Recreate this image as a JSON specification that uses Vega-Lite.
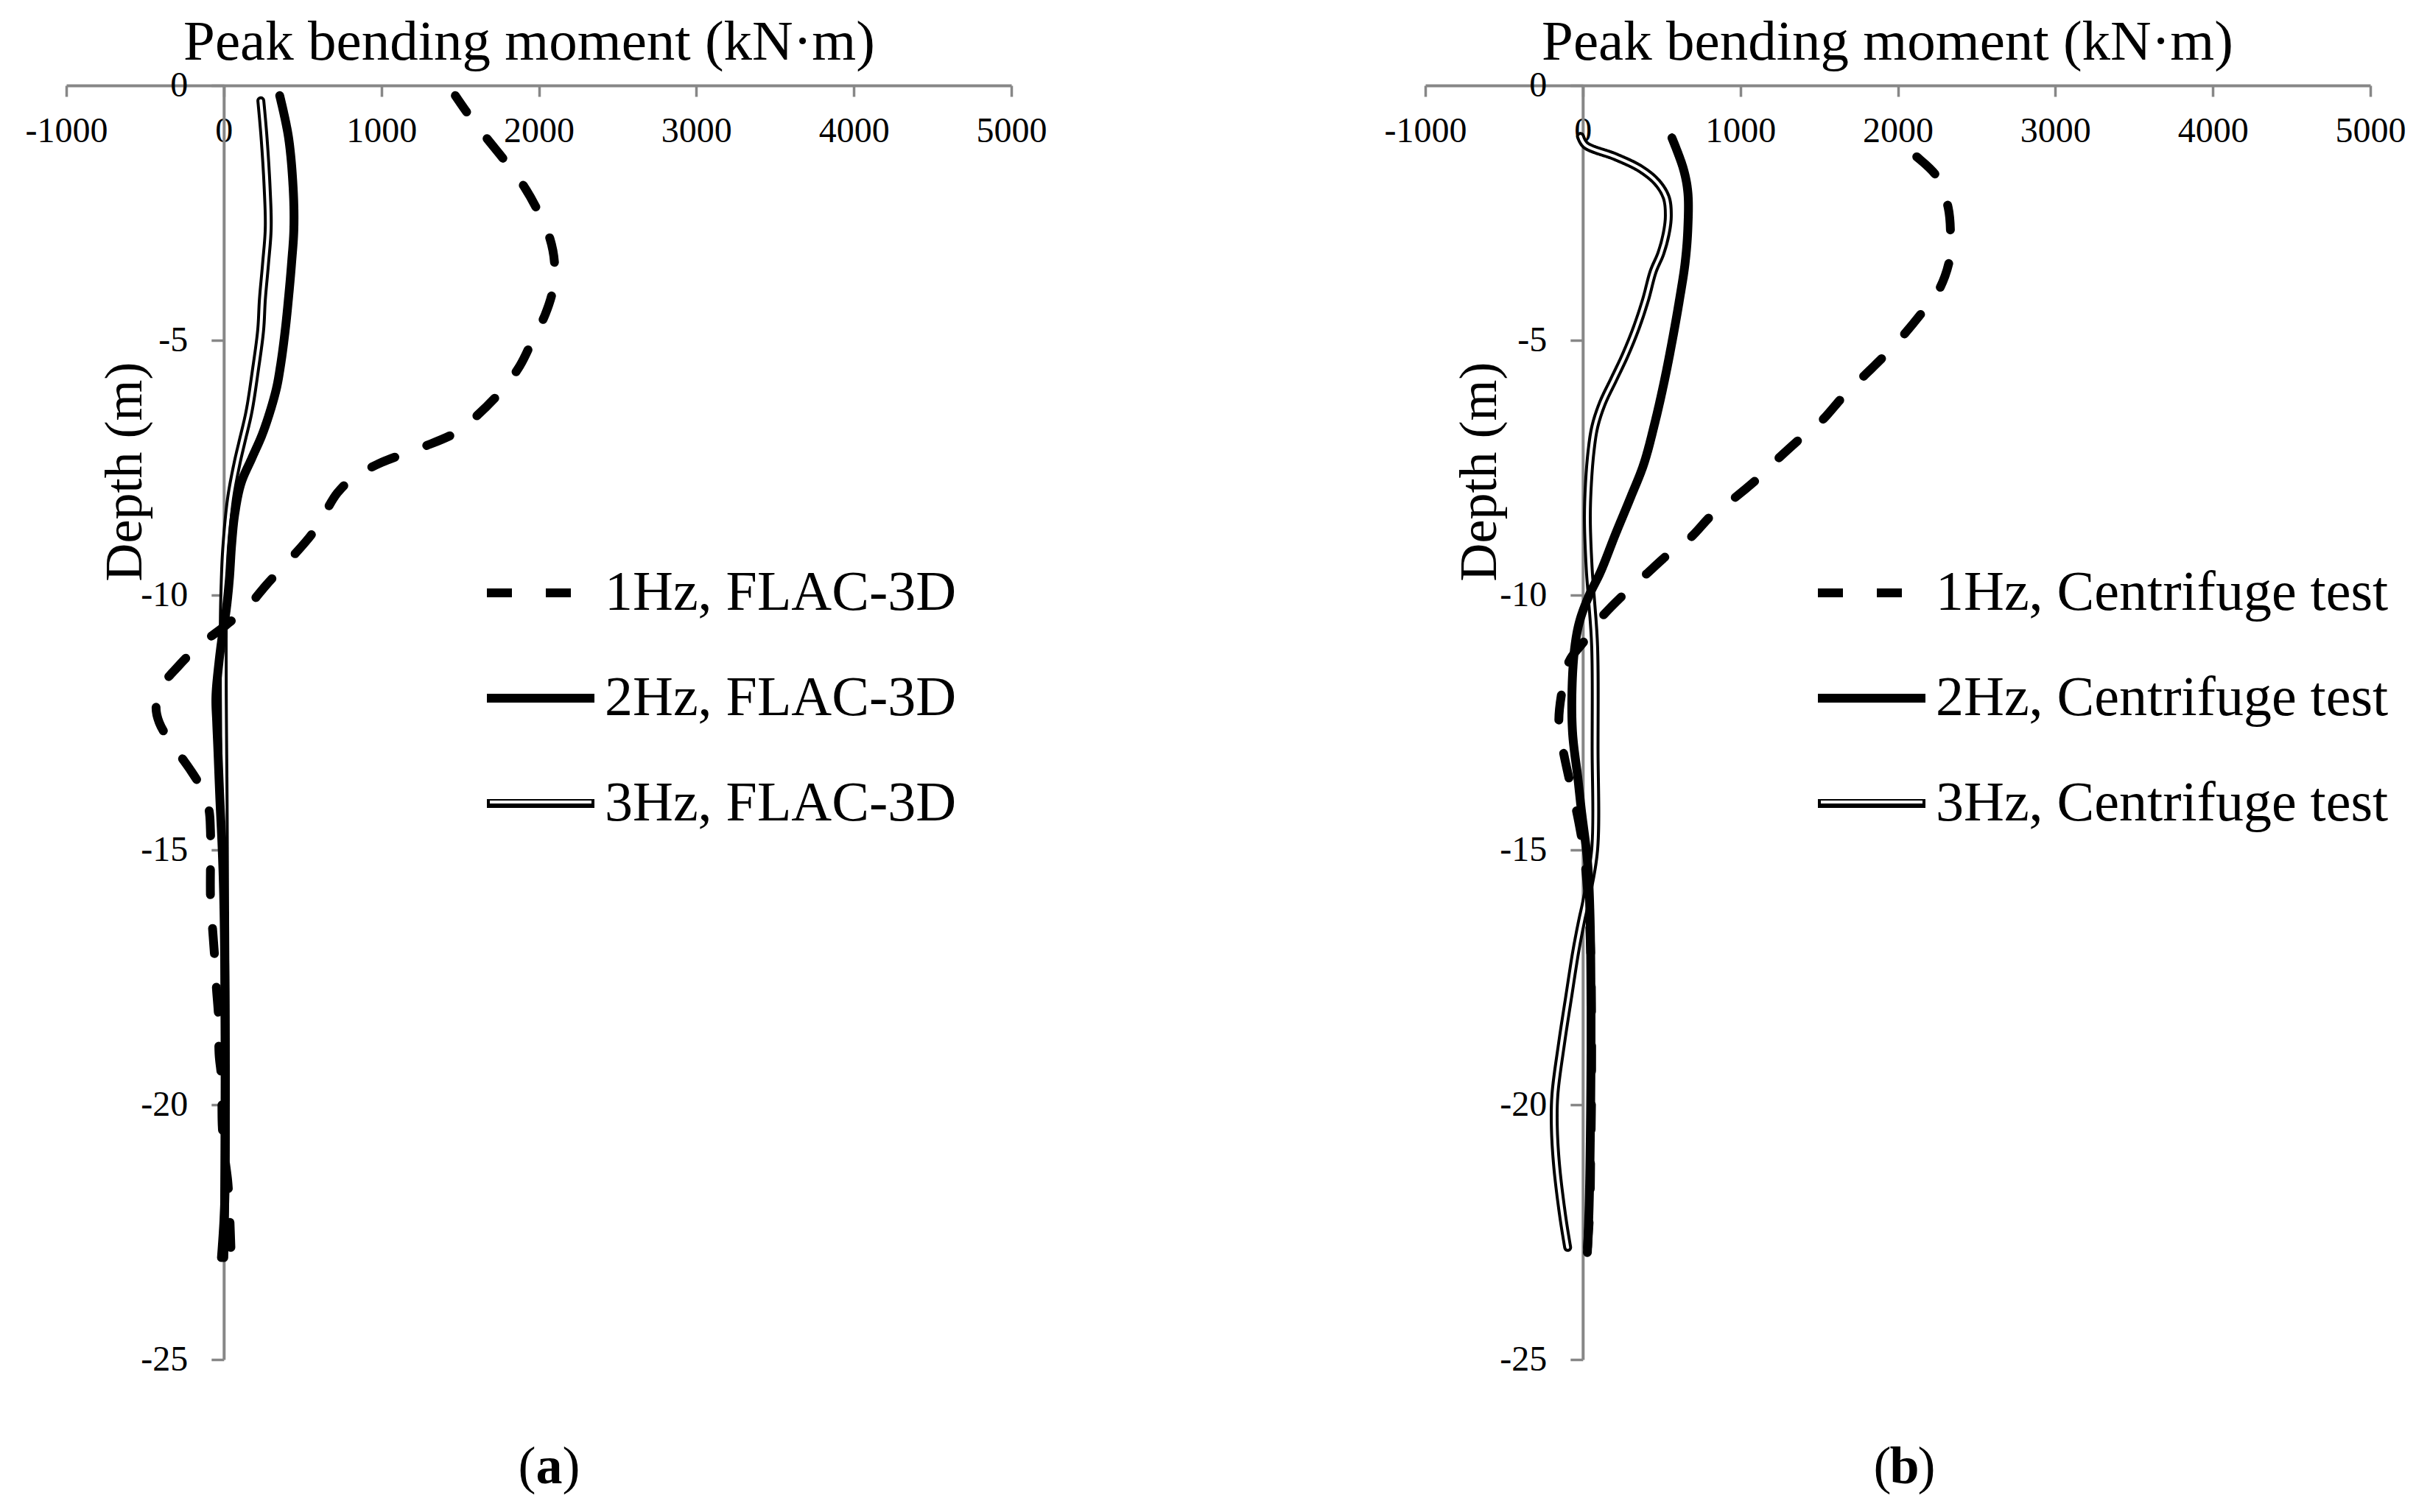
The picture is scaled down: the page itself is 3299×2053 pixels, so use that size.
{
  "$schema": "https://vega.github.io/schema/vega-lite/v6.json",
  "background": "white",
  "padding": {"left": 34, "top": 18, "right": 10, "bottom": 10},
  "config": {
    "view": {"stroke": null},
    "font": "Liberation Serif",
    "axis": {
      "grid": false,
      "labelFont": "Liberation Serif",
      "labelFontSize": 48,
      "labelColor": "black",
      "titleFont": "Liberation Serif",
      "titleColor": "black",
      "titleFontWeight": "normal",
      "domainColor": "#878787",
      "domainWidth": 4,
      "tickColor": "#878787",
      "tickWidth": 3.5,
      "labelFlush": false,
      "labelOverlap": false
    },
    "legend": {
      "labelFont": "Liberation Serif",
      "labelFontSize": 76,
      "labelColor": "black",
      "labelLimit": 3000,
      "padding": 0
    }
  },
  "datasets": {
    "a": [
      {"s": "1Hz, FLAC-3D", "d": -0.2, "m": 1470},
      {"s": "1Hz, FLAC-3D", "d": -0.6, "m": 1560},
      {"s": "1Hz, FLAC-3D", "d": -1.0, "m": 1660},
      {"s": "1Hz, FLAC-3D", "d": -1.5, "m": 1790},
      {"s": "1Hz, FLAC-3D", "d": -2.0, "m": 1910},
      {"s": "1Hz, FLAC-3D", "d": -2.5, "m": 2000},
      {"s": "1Hz, FLAC-3D", "d": -3.0, "m": 2070},
      {"s": "1Hz, FLAC-3D", "d": -3.5, "m": 2100},
      {"s": "1Hz, FLAC-3D", "d": -4.0, "m": 2090},
      {"s": "1Hz, FLAC-3D", "d": -4.5, "m": 2040},
      {"s": "1Hz, FLAC-3D", "d": -5.0, "m": 1960},
      {"s": "1Hz, FLAC-3D", "d": -5.5, "m": 1880},
      {"s": "1Hz, FLAC-3D", "d": -6.0, "m": 1760},
      {"s": "1Hz, FLAC-3D", "d": -6.5, "m": 1600},
      {"s": "1Hz, FLAC-3D", "d": -6.8, "m": 1480},
      {"s": "1Hz, FLAC-3D", "d": -7.1, "m": 1260},
      {"s": "1Hz, FLAC-3D", "d": -7.4, "m": 1000},
      {"s": "1Hz, FLAC-3D", "d": -7.7, "m": 820},
      {"s": "1Hz, FLAC-3D", "d": -8.0, "m": 720},
      {"s": "1Hz, FLAC-3D", "d": -8.4, "m": 640},
      {"s": "1Hz, FLAC-3D", "d": -8.8, "m": 560},
      {"s": "1Hz, FLAC-3D", "d": -9.3, "m": 420},
      {"s": "1Hz, FLAC-3D", "d": -9.8, "m": 270},
      {"s": "1Hz, FLAC-3D", "d": -10.2, "m": 160},
      {"s": "1Hz, FLAC-3D", "d": -10.6, "m": 10},
      {"s": "1Hz, FLAC-3D", "d": -11.0, "m": -160},
      {"s": "1Hz, FLAC-3D", "d": -11.4, "m": -290},
      {"s": "1Hz, FLAC-3D", "d": -11.8, "m": -396},
      {"s": "1Hz, FLAC-3D", "d": -12.2, "m": -430},
      {"s": "1Hz, FLAC-3D", "d": -12.5, "m": -410},
      {"s": "1Hz, FLAC-3D", "d": -12.9, "m": -335},
      {"s": "1Hz, FLAC-3D", "d": -13.4, "m": -219},
      {"s": "1Hz, FLAC-3D", "d": -13.8, "m": -140},
      {"s": "1Hz, FLAC-3D", "d": -14.2, "m": -95},
      {"s": "1Hz, FLAC-3D", "d": -14.6, "m": -85},
      {"s": "1Hz, FLAC-3D", "d": -15.0, "m": -84},
      {"s": "1Hz, FLAC-3D", "d": -16.0, "m": -84},
      {"s": "1Hz, FLAC-3D", "d": -16.6, "m": -70},
      {"s": "1Hz, FLAC-3D", "d": -17.2, "m": -56},
      {"s": "1Hz, FLAC-3D", "d": -17.7, "m": -47},
      {"s": "1Hz, FLAC-3D", "d": -18.3, "m": -33},
      {"s": "1Hz, FLAC-3D", "d": -19.0, "m": -30},
      {"s": "1Hz, FLAC-3D", "d": -19.5, "m": -14},
      {"s": "1Hz, FLAC-3D", "d": -20.4, "m": -10},
      {"s": "1Hz, FLAC-3D", "d": -21.0, "m": 5},
      {"s": "1Hz, FLAC-3D", "d": -21.5, "m": 25},
      {"s": "1Hz, FLAC-3D", "d": -22.0, "m": 35},
      {"s": "1Hz, FLAC-3D", "d": -22.8, "m": 45},
      {"s": "2Hz, FLAC-3D", "d": -0.2, "m": 355},
      {"s": "2Hz, FLAC-3D", "d": -1.0, "m": 410},
      {"s": "2Hz, FLAC-3D", "d": -2.0, "m": 440},
      {"s": "2Hz, FLAC-3D", "d": -2.8, "m": 445},
      {"s": "2Hz, FLAC-3D", "d": -3.5, "m": 430},
      {"s": "2Hz, FLAC-3D", "d": -4.2, "m": 410},
      {"s": "2Hz, FLAC-3D", "d": -4.8, "m": 390},
      {"s": "2Hz, FLAC-3D", "d": -5.5, "m": 360},
      {"s": "2Hz, FLAC-3D", "d": -6.0, "m": 330},
      {"s": "2Hz, FLAC-3D", "d": -6.8, "m": 250},
      {"s": "2Hz, FLAC-3D", "d": -7.3, "m": 180},
      {"s": "2Hz, FLAC-3D", "d": -7.8, "m": 110},
      {"s": "2Hz, FLAC-3D", "d": -8.4, "m": 70},
      {"s": "2Hz, FLAC-3D", "d": -9.0, "m": 50},
      {"s": "2Hz, FLAC-3D", "d": -9.7, "m": 35},
      {"s": "2Hz, FLAC-3D", "d": -10.3, "m": 15},
      {"s": "2Hz, FLAC-3D", "d": -10.7, "m": -5},
      {"s": "2Hz, FLAC-3D", "d": -11.3, "m": -30},
      {"s": "2Hz, FLAC-3D", "d": -12.0, "m": -50},
      {"s": "2Hz, FLAC-3D", "d": -12.5, "m": -45},
      {"s": "2Hz, FLAC-3D", "d": -13.0, "m": -38},
      {"s": "2Hz, FLAC-3D", "d": -14.0, "m": -25},
      {"s": "2Hz, FLAC-3D", "d": -15.0, "m": -10},
      {"s": "2Hz, FLAC-3D", "d": -16.0, "m": 0},
      {"s": "2Hz, FLAC-3D", "d": -18.0, "m": 8},
      {"s": "2Hz, FLAC-3D", "d": -20.0, "m": 10},
      {"s": "2Hz, FLAC-3D", "d": -22.0, "m": 5},
      {"s": "2Hz, FLAC-3D", "d": -23.0, "m": -15},
      {"s": "3Hz, FLAC-3D", "d": -0.3, "m": 235},
      {"s": "3Hz, FLAC-3D", "d": -1.0, "m": 255},
      {"s": "3Hz, FLAC-3D", "d": -2.0, "m": 275},
      {"s": "3Hz, FLAC-3D", "d": -2.8, "m": 282},
      {"s": "3Hz, FLAC-3D", "d": -3.5, "m": 265},
      {"s": "3Hz, FLAC-3D", "d": -4.2, "m": 245},
      {"s": "3Hz, FLAC-3D", "d": -4.8, "m": 234},
      {"s": "3Hz, FLAC-3D", "d": -5.6, "m": 200},
      {"s": "3Hz, FLAC-3D", "d": -6.4, "m": 160},
      {"s": "3Hz, FLAC-3D", "d": -7.0, "m": 115},
      {"s": "3Hz, FLAC-3D", "d": -7.4, "m": 85},
      {"s": "3Hz, FLAC-3D", "d": -8.1, "m": 43},
      {"s": "3Hz, FLAC-3D", "d": -9.1, "m": 12},
      {"s": "3Hz, FLAC-3D", "d": -9.8, "m": 2},
      {"s": "3Hz, FLAC-3D", "d": -10.5, "m": -3},
      {"s": "3Hz, FLAC-3D", "d": -12.0, "m": -3},
      {"s": "3Hz, FLAC-3D", "d": -14.0, "m": 2},
      {"s": "3Hz, FLAC-3D", "d": -16.0, "m": 5},
      {"s": "3Hz, FLAC-3D", "d": -18.0, "m": 8},
      {"s": "3Hz, FLAC-3D", "d": -20.0, "m": 8},
      {"s": "3Hz, FLAC-3D", "d": -22.0, "m": 5},
      {"s": "3Hz, FLAC-3D", "d": -23.0, "m": 0}
    ],
    "b": [
      {"s": "1Hz, Centrifuge test", "d": -1.07, "m": 1977},
      {"s": "1Hz, Centrifuge test", "d": -1.4, "m": 2120},
      {"s": "1Hz, Centrifuge test", "d": -1.8, "m": 2250},
      {"s": "1Hz, Centrifuge test", "d": -2.4, "m": 2320},
      {"s": "1Hz, Centrifuge test", "d": -3.0, "m": 2335},
      {"s": "1Hz, Centrifuge test", "d": -3.4, "m": 2330},
      {"s": "1Hz, Centrifuge test", "d": -4.0, "m": 2263},
      {"s": "1Hz, Centrifuge test", "d": -4.4, "m": 2168},
      {"s": "1Hz, Centrifuge test", "d": -4.9, "m": 2036},
      {"s": "1Hz, Centrifuge test", "d": -5.3, "m": 1917},
      {"s": "1Hz, Centrifuge test", "d": -5.7, "m": 1785},
      {"s": "1Hz, Centrifuge test", "d": -6.1, "m": 1654},
      {"s": "1Hz, Centrifuge test", "d": -6.6, "m": 1510},
      {"s": "1Hz, Centrifuge test", "d": -6.9, "m": 1391},
      {"s": "1Hz, Centrifuge test", "d": -7.3, "m": 1248},
      {"s": "1Hz, Centrifuge test", "d": -7.7, "m": 1116},
      {"s": "1Hz, Centrifuge test", "d": -8.1, "m": 961},
      {"s": "1Hz, Centrifuge test", "d": -8.4, "m": 829},
      {"s": "1Hz, Centrifuge test", "d": -8.9, "m": 674},
      {"s": "1Hz, Centrifuge test", "d": -9.2, "m": 543},
      {"s": "1Hz, Centrifuge test", "d": -9.6, "m": 399},
      {"s": "1Hz, Centrifuge test", "d": -10.0, "m": 256},
      {"s": "1Hz, Centrifuge test", "d": -10.45, "m": 115},
      {"s": "1Hz, Centrifuge test", "d": -10.9, "m": 10},
      {"s": "1Hz, Centrifuge test", "d": -11.3, "m": -87},
      {"s": "1Hz, Centrifuge test", "d": -11.9, "m": -133},
      {"s": "1Hz, Centrifuge test", "d": -12.5, "m": -152},
      {"s": "1Hz, Centrifuge test", "d": -13.0, "m": -128},
      {"s": "1Hz, Centrifuge test", "d": -13.6, "m": -87},
      {"s": "1Hz, Centrifuge test", "d": -14.1, "m": -49},
      {"s": "1Hz, Centrifuge test", "d": -14.7, "m": -11},
      {"s": "1Hz, Centrifuge test", "d": -15.2, "m": 12},
      {"s": "1Hz, Centrifuge test", "d": -16.0, "m": 35},
      {"s": "1Hz, Centrifuge test", "d": -17.0, "m": 50},
      {"s": "1Hz, Centrifuge test", "d": -18.0, "m": 55},
      {"s": "1Hz, Centrifuge test", "d": -20.0, "m": 55},
      {"s": "1Hz, Centrifuge test", "d": -21.0, "m": 50},
      {"s": "1Hz, Centrifuge test", "d": -22.0, "m": 45},
      {"s": "1Hz, Centrifuge test", "d": -22.8, "m": 30},
      {"s": "2Hz, Centrifuge test", "d": -1.03, "m": 566},
      {"s": "2Hz, Centrifuge test", "d": -1.63, "m": 638},
      {"s": "2Hz, Centrifuge test", "d": -2.1, "m": 667},
      {"s": "2Hz, Centrifuge test", "d": -2.8, "m": 667},
      {"s": "2Hz, Centrifuge test", "d": -3.47, "m": 650},
      {"s": "2Hz, Centrifuge test", "d": -4.2, "m": 614},
      {"s": "2Hz, Centrifuge test", "d": -5.04, "m": 566},
      {"s": "2Hz, Centrifuge test", "d": -5.78, "m": 519},
      {"s": "2Hz, Centrifuge test", "d": -6.6, "m": 459},
      {"s": "2Hz, Centrifuge test", "d": -7.43, "m": 387},
      {"s": "2Hz, Centrifuge test", "d": -8.08, "m": 304},
      {"s": "2Hz, Centrifuge test", "d": -8.8, "m": 208},
      {"s": "2Hz, Centrifuge test", "d": -9.55, "m": 112},
      {"s": "2Hz, Centrifuge test", "d": -10.0, "m": 41},
      {"s": "2Hz, Centrifuge test", "d": -10.5, "m": -19},
      {"s": "2Hz, Centrifuge test", "d": -11.0, "m": -50},
      {"s": "2Hz, Centrifuge test", "d": -11.8, "m": -68},
      {"s": "2Hz, Centrifuge test", "d": -12.7, "m": -65},
      {"s": "2Hz, Centrifuge test", "d": -13.6, "m": -31},
      {"s": "2Hz, Centrifuge test", "d": -14.2, "m": -10},
      {"s": "2Hz, Centrifuge test", "d": -15.2, "m": 29},
      {"s": "2Hz, Centrifuge test", "d": -16.2, "m": 45},
      {"s": "2Hz, Centrifuge test", "d": -18.0, "m": 52},
      {"s": "2Hz, Centrifuge test", "d": -20.0, "m": 50},
      {"s": "2Hz, Centrifuge test", "d": -22.0, "m": 40},
      {"s": "2Hz, Centrifuge test", "d": -22.9, "m": 29},
      {"s": "3Hz, Centrifuge test", "d": -1.0, "m": -15},
      {"s": "3Hz, Centrifuge test", "d": -1.17, "m": 17},
      {"s": "3Hz, Centrifuge test", "d": -1.4, "m": 208},
      {"s": "3Hz, Centrifuge test", "d": -1.63, "m": 363},
      {"s": "3Hz, Centrifuge test", "d": -1.9, "m": 471},
      {"s": "3Hz, Centrifuge test", "d": -2.2, "m": 530},
      {"s": "3Hz, Centrifuge test", "d": -2.55, "m": 543},
      {"s": "3Hz, Centrifuge test", "d": -2.9, "m": 530},
      {"s": "3Hz, Centrifuge test", "d": -3.3, "m": 495},
      {"s": "3Hz, Centrifuge test", "d": -3.65, "m": 447},
      {"s": "3Hz, Centrifuge test", "d": -4.2, "m": 399},
      {"s": "3Hz, Centrifuge test", "d": -4.76, "m": 339},
      {"s": "3Hz, Centrifuge test", "d": -5.3, "m": 268},
      {"s": "3Hz, Centrifuge test", "d": -5.77, "m": 196},
      {"s": "3Hz, Centrifuge test", "d": -6.24, "m": 124},
      {"s": "3Hz, Centrifuge test", "d": -6.7, "m": 76},
      {"s": "3Hz, Centrifuge test", "d": -7.16, "m": 53},
      {"s": "3Hz, Centrifuge test", "d": -7.8, "m": 36},
      {"s": "3Hz, Centrifuge test", "d": -8.5, "m": 29},
      {"s": "3Hz, Centrifuge test", "d": -9.5, "m": 41},
      {"s": "3Hz, Centrifuge test", "d": -10.0, "m": 53},
      {"s": "3Hz, Centrifuge test", "d": -11.0, "m": 75},
      {"s": "3Hz, Centrifuge test", "d": -13.0, "m": 78},
      {"s": "3Hz, Centrifuge test", "d": -15.0, "m": 75},
      {"s": "3Hz, Centrifuge test", "d": -16.0, "m": 20},
      {"s": "3Hz, Centrifuge test", "d": -16.4, "m": -8},
      {"s": "3Hz, Centrifuge test", "d": -17.0, "m": -45},
      {"s": "3Hz, Centrifuge test", "d": -17.85, "m": -88},
      {"s": "3Hz, Centrifuge test", "d": -18.8, "m": -135},
      {"s": "3Hz, Centrifuge test", "d": -19.8, "m": -177},
      {"s": "3Hz, Centrifuge test", "d": -20.4, "m": -181},
      {"s": "3Hz, Centrifuge test", "d": -21.2, "m": -166},
      {"s": "3Hz, Centrifuge test", "d": -22.2, "m": -127},
      {"s": "3Hz, Centrifuge test", "d": -22.8, "m": -96}
    ]
  },
  "spacing": 562,
  "bounds": "flush",
  "resolve": {
    "scale": {"strokeDash": "independent", "color": "independent"},
    "legend": {"strokeDash": "independent", "color": "independent"}
  },
  "hconcat": [
    {
      "width": 1283,
      "height": 1730,
      "data": {"name": "a"},
      "resolve": {"axis": {"x": "independent", "y": "independent"}},
      "layer": [
        {
          "transform": [{"filter": "datum.s == '3Hz, FLAC-3D'"}],
          "mark": {"type": "line", "color": "black", "strokeWidth": 12, "strokeCap": "round", "strokeJoin": "round", "interpolate": "catmull-rom"},
          "encoding": {
            "x": {"field": "m", "type": "quantitative", "scale": {"domain": [-1000, 5000], "nice": false, "zero": false},
              "axis": {"orient": "bottom", "offset": -1730, "values": [-1000, 0, 1000, 2000, 3000, 4000, 5000], "tickSize": 15, "labelPadding": 23, "labelExpr": "'' + datum.value", "title": "Peak bending moment (kN·m)", "titleFontSize": 77, "titleX": 628, "titleY": -36, "titleAlign": "center", "titleBaseline": "alphabetic"}},
            "y": {"field": "d", "type": "quantitative", "scale": {"domain": [-25, 0], "nice": false, "zero": false},
              "axis": {"orient": "left", "offset": -213.8, "values": [-25, -20, -15, -10, -5, 0], "tickSize": 17, "labelPadding": 32, "labelExpr": "'' + datum.value", "title": "Depth (m)", "titleFontSize": 72, "titleAngle": 270, "titleX": -112, "titleY": 524, "titleAlign": "center", "titleBaseline": "alphabetic"}},
            "order": {"field": "d", "type": "quantitative"},
            "strokeDash": {"field": "s", "type": "nominal",
              "scale": {"domain": ["1Hz, FLAC-3D", "2Hz, FLAC-3D", "3Hz, FLAC-3D"], "range": [[34, 46], [1, 0], [1, 0]]},
              "legend": {"title": null, "orient": "none", "legendX": 565, "legendY": 610, "symbolType": "stroke", "symbolSize": 21316, "symbolStrokeWidth": 12, "symbolStrokeColor": "black", "labelOffset": 8, "rowPadding": 26}}
          }
        },
        {
          "transform": [{"filter": "datum.s == '3Hz, FLAC-3D'"}],
          "mark": {"type": "line", "strokeWidth": 4, "strokeCap": "round", "strokeJoin": "round", "interpolate": "catmull-rom"},
          "encoding": {
            "x": {"field": "m", "type": "quantitative",
              "axis": {"orient": "bottom", "domain": false, "ticks": false, "labels": false, "title": "(\u00a0\u00a0)", "titleFontSize": 72, "titleX": 655, "titleY": 167, "titleAlign": "center", "titleBaseline": "alphabetic"}},
            "y": {"field": "d", "type": "quantitative",
              "axis": {"orient": "left", "domain": false, "ticks": false, "labels": false, "title": "a", "titleFontSize": 72, "titleFontWeight": "bold", "titleAngle": 0, "titleX": 655, "titleY": 1897, "titleAlign": "center", "titleBaseline": "alphabetic"}},
            "order": {"field": "d", "type": "quantitative"},
            "color": {"field": "s", "type": "nominal", "scale": {"range": ["white"]},
              "legend": {"title": null, "orient": "none", "legendX": 573, "legendY": 902, "symbolType": "stroke", "symbolSize": 19044, "symbolStrokeWidth": 4, "labelOpacity": 0}}
          }
        },
        {
          "transform": [{"filter": "datum.s != '3Hz, FLAC-3D'"}],
          "mark": {"type": "line", "color": "black", "strokeWidth": 12, "strokeCap": "round", "strokeJoin": "round", "interpolate": "catmull-rom"},
          "encoding": {
            "x": {"field": "m", "type": "quantitative", "axis": null},
            "y": {"field": "d", "type": "quantitative", "axis": null},
            "order": {"field": "d", "type": "quantitative"},
            "strokeDash": {"field": "s", "type": "nominal",
              "scale": {"domain": ["1Hz, FLAC-3D", "2Hz, FLAC-3D", "3Hz, FLAC-3D"], "range": [[34, 46], [1, 0], [1, 0]]},
              "legend": {"title": null, "orient": "none", "legendX": 565, "legendY": 610, "symbolType": "stroke", "symbolSize": 21316, "symbolStrokeWidth": 12, "symbolStrokeColor": "black", "labelOffset": 8, "rowPadding": 26}}
          }
        }
      ]
    },
    {
      "width": 1283,
      "height": 1730,
      "data": {"name": "b"},
      "resolve": {"axis": {"x": "independent", "y": "independent"}},
      "layer": [
        {
          "transform": [{"filter": "datum.s == '3Hz, Centrifuge test'"}],
          "mark": {"type": "line", "color": "black", "strokeWidth": 12, "strokeCap": "round", "strokeJoin": "round", "interpolate": "catmull-rom"},
          "encoding": {
            "x": {"field": "m", "type": "quantitative", "scale": {"domain": [-1000, 5000], "nice": false, "zero": false},
              "axis": {"orient": "bottom", "offset": -1730, "values": [-1000, 0, 1000, 2000, 3000, 4000, 5000], "tickSize": 15, "labelPadding": 23, "labelExpr": "'' + datum.value", "title": "Peak bending moment (kN·m)", "titleFontSize": 77, "titleX": 627, "titleY": -36, "titleAlign": "center", "titleBaseline": "alphabetic"}},
            "y": {"field": "d", "type": "quantitative", "scale": {"domain": [-25, 0], "nice": false, "zero": false},
              "axis": {"orient": "left", "offset": -213.8, "values": [-25, -20, -15, -10, -5, 0], "tickSize": 17, "labelPadding": 32, "labelExpr": "'' + datum.value", "title": "Depth (m)", "titleFontSize": 72, "titleAngle": 270, "titleX": -118, "titleY": 524, "titleAlign": "center", "titleBaseline": "alphabetic"}},
            "order": {"field": "d", "type": "quantitative"},
            "strokeDash": {"field": "s", "type": "nominal",
              "scale": {"domain": ["1Hz, Centrifuge test", "2Hz, Centrifuge test", "3Hz, Centrifuge test"], "range": [[34, 46], [1, 0], [1, 0]]},
              "legend": {"title": null, "orient": "none", "legendX": 527, "legendY": 610, "symbolType": "stroke", "symbolSize": 21316, "symbolStrokeWidth": 12, "symbolStrokeColor": "black", "labelOffset": 8, "rowPadding": 26}}
          }
        },
        {
          "transform": [{"filter": "datum.s == '3Hz, Centrifuge test'"}],
          "mark": {"type": "line", "strokeWidth": 4, "strokeCap": "round", "strokeJoin": "round", "interpolate": "catmull-rom"},
          "encoding": {
            "x": {"field": "m", "type": "quantitative",
              "axis": {"orient": "bottom", "domain": false, "ticks": false, "labels": false, "title": "(\u00a0\u00a0)", "titleFontSize": 72, "titleX": 650, "titleY": 167, "titleAlign": "center", "titleBaseline": "alphabetic"}},
            "y": {"field": "d", "type": "quantitative",
              "axis": {"orient": "left", "domain": false, "ticks": false, "labels": false, "title": "b", "titleFontSize": 72, "titleFontWeight": "bold", "titleAngle": 0, "titleX": 650, "titleY": 1897, "titleAlign": "center", "titleBaseline": "alphabetic"}},
            "order": {"field": "d", "type": "quantitative"},
            "color": {"field": "s", "type": "nominal", "scale": {"range": ["white"]},
              "legend": {"title": null, "orient": "none", "legendX": 535, "legendY": 902, "symbolType": "stroke", "symbolSize": 19044, "symbolStrokeWidth": 4, "labelOpacity": 0}}
          }
        },
        {
          "transform": [{"filter": "datum.s != '3Hz, Centrifuge test'"}],
          "mark": {"type": "line", "color": "black", "strokeWidth": 12, "strokeCap": "round", "strokeJoin": "round", "interpolate": "catmull-rom"},
          "encoding": {
            "x": {"field": "m", "type": "quantitative", "axis": null},
            "y": {"field": "d", "type": "quantitative", "axis": null},
            "order": {"field": "d", "type": "quantitative"},
            "strokeDash": {"field": "s", "type": "nominal",
              "scale": {"domain": ["1Hz, Centrifuge test", "2Hz, Centrifuge test", "3Hz, Centrifuge test"], "range": [[34, 46], [1, 0], [1, 0]]},
              "legend": {"title": null, "orient": "none", "legendX": 527, "legendY": 610, "symbolType": "stroke", "symbolSize": 21316, "symbolStrokeWidth": 12, "symbolStrokeColor": "black", "labelOffset": 8, "rowPadding": 26}}
          }
        }
      ]
    }
  ]
}
